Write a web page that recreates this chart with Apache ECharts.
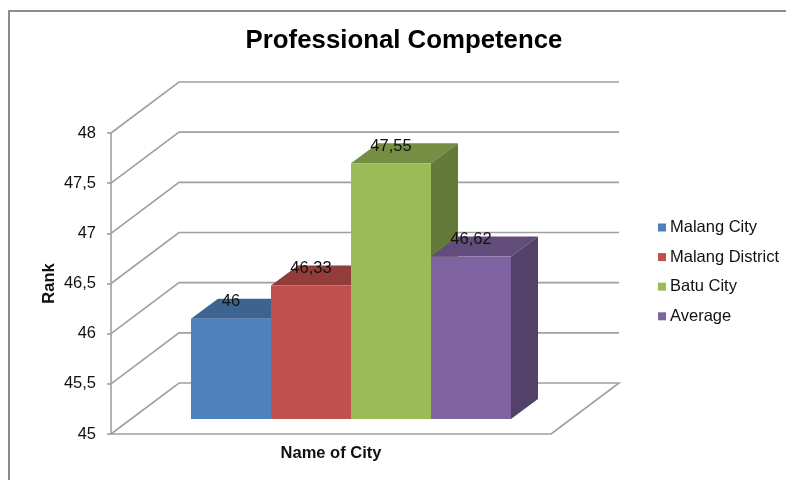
<!DOCTYPE html>
<html><head><meta charset="utf-8">
<style>html,body{margin:0;padding:0;background:#fff}#c{width:786px;height:480px}</style>
<script src="https://cdn.jsdelivr.net/npm/echarts@6/dist/echarts.min.js"></script>
</head><body><div id="c"></div>
<script>
const cities = ['Malang City', 'Malang District', 'Batu City', 'Average'];
const values = [46, 46.33, 47.55, 46.62];
const labels = ['46', '46,33', '47,55', '46,62'];
const faceColors = ['#4f81bd', '#c0504d', '#9bbb59', '#8064a2'];
const topColors = ['#3d6390', '#933d3b', '#768e44', '#624c7c'];
const sideColors = ['#34547a', '#7d3432', '#647a3a', '#534169'];
const ticks = [45, 45.5, 46, 46.5, 47, 47.5, 48];
const gridColor = '#a0a0a0';
const font = '"Liberation Sans", Arial, sans-serif';

const WALL = [68, -51], BAR_OFF = [20, -15], BAR_DEPTH = [27, -20];
const chart = echarts.init(document.getElementById('c'));

function poly(points, color) {
  return { type: 'polygon', shape: { points }, style: { fill: color } };
}
function barItem(i) {
  return function (params, api) {
    const cs = params.coordSys;
    const w = cs.width * 2 / 11;
    const x = cs.x + 60 + BAR_OFF[0] + w * i;
    const yt = api.coord([0, api.value(1)])[1] + BAR_OFF[1];
    const yb = api.coord([0, ticks[0]])[1] + BAR_OFF[1];
    const [dx, dy] = BAR_DEPTH;
    return {
      type: 'group',
      children: [
        poly([[x, yt], [x + w, yt], [x + w + dx, yt + dy], [x + dx, yt + dy]], topColors[i]),
        poly([[x + w, yt], [x + w + dx, yt + dy], [x + w + dx, yb + dy], [x + w, yb]], sideColors[i]),
        poly([[x, yt], [x + w, yt], [x + w, yb], [x, yb]], faceColors[i]),
        { type: 'text', z2: 100, style: { x: x + w / 2, y: yt - 17, text: labels[i], fill: '#111', font: '16.5px ' + font, align: 'center', verticalAlign: 'middle' } }
      ]
    };
  };
}
function wallItem(params, api) {
  const cs = params.coordSys;
  const y = api.coord([0, api.value(1)])[1];
  const isFloor = api.value(1) === ticks[0];
  const l = cs.x, r = cs.x + cs.width;
  const pts = [[l, y], [l + WALL[0], y + WALL[1]], [r + WALL[0], y + WALL[1]]];
  if (isFloor) pts.push([r, y]);
  return { type: 'polyline', shape: { points: pts }, style: { fill: null, stroke: gridColor, lineWidth: 1.6 } };
}

const series = [{
  type: 'custom', name: 'walls', silent: true, z: 1,
  data: ticks.map(t => [0, t]), encode: { x: 0, y: 1 }, renderItem: wallItem, clip: false
}].concat(cities.map((c, i) => ({
  type: 'custom', name: c, z: 2 + i, clip: false,
  itemStyle: { color: faceColors[i] },
  data: [[0, values[i]]], encode: { x: 0, y: 1 }, renderItem: barItem(i)
})));

chart.setOption({
  animation: false,
  backgroundColor: '#fff',
  title: {
    text: 'Professional Competence', left: 399, top: 23, textAlign: 'center',
    textStyle: { fontFamily: font, fontSize: 25.8, fontWeight: 'bold', color: '#000' }
  },
  legend: {
    data: cities, orient: 'vertical', left: 653, top: 214, icon: 'rect',
    itemWidth: 8, itemHeight: 8, itemGap: 12.6, selectedMode: false,
    textStyle: { fontFamily: font, fontSize: 16.5, color: '#111', padding: [0, 0, 0, -1] }
  },
  grid: { left: 111, right: 235, top: 133, bottom: 46 },
  xAxis: {
    type: 'category', data: ['Name of City'],
    name: 'Name of City', nameLocation: 'middle', nameGap: 11,
    nameTextStyle: { fontFamily: font, fontSize: 16.5, fontWeight: 'bold', color: '#111' },
    axisLabel: { show: false }, axisTick: { show: false },
    axisLine: { lineStyle: { color: gridColor, width: 1.6 } }
  },
  yAxis: {
    type: 'value', min: 45, max: 48, interval: 0.5,
    name: 'Rank', nameLocation: 'middle', nameGap: 53, nameMoveOverlap: false,
    nameTextStyle: { fontFamily: font, fontSize: 16.5, fontWeight: 'bold', color: '#111' },
    axisLabel: { fontFamily: font, fontSize: 16.5, color: '#111', margin: 15, padding: [3, 0, 0, 0], formatter: v => String(v).replace('.', ',') },
    axisTick: { show: true, length: 4, lineStyle: { color: gridColor, width: 1.6 } },
    axisLine: { show: true, lineStyle: { color: gridColor, width: 1.6 } },
    splitLine: { show: false }
  },
  graphic: [{
    type: 'polyline', silent: true,
    shape: { points: [[9, 480], [9, 11], [786, 11]] },
    style: { fill: null, stroke: '#8c8c8c', lineWidth: 2 }
  }],
  series
});
</script></body></html>
